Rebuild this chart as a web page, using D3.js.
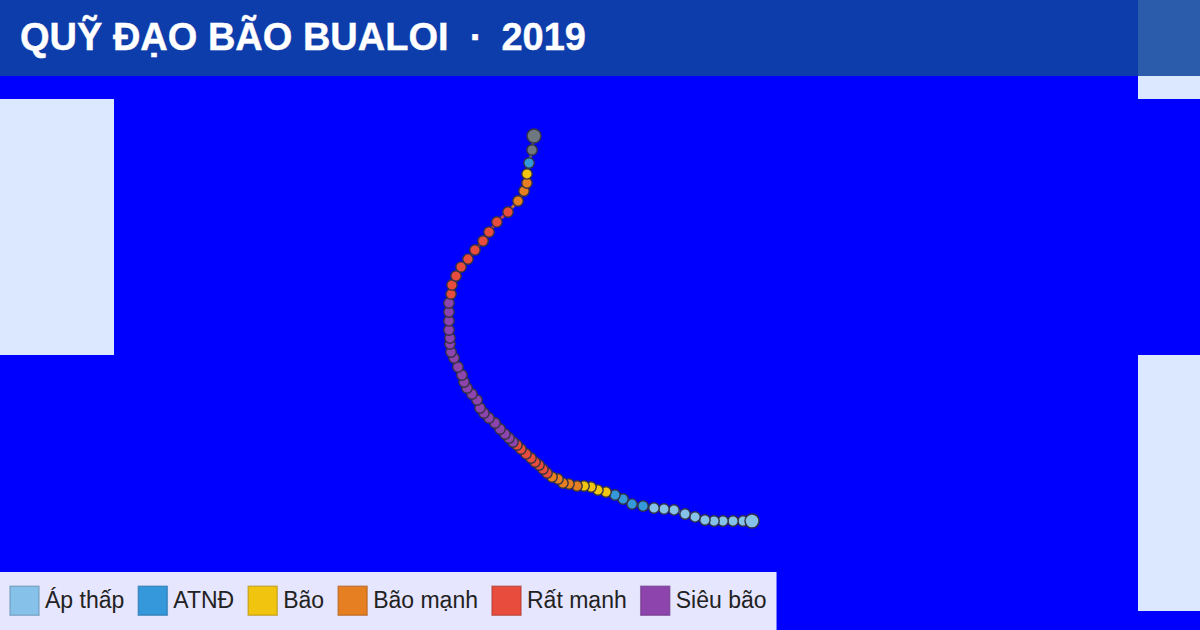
<!DOCTYPE html>
<html>
<head>
<meta charset="utf-8">
<script src="https://cdn.jsdelivr.net/npm/d3@7"></script>
<style>
  html, body { margin: 0; padding: 0; background: #0000ff; }
  svg { display: block; font-family: "Liberation Sans", Arial, sans-serif; }
</style>
</head>
<body>
<svg id="chart" width="1200" height="630"></svg>
<script>
// track, from the first point (bottom right) to the last
const lons = [165.00,164.31,163.54,162.77,162.08,161.38,160.62,159.85,159.00,158.23,157.46,
  156.62,155.77,155.08,154.46,
  153.77,153.15,152.62,152.08,
  151.54,150.92,150.46,150.08,149.62,
  149.23,148.92,148.62,148.31,148.00,147.62,147.23,146.92,
  146.62,146.31,146.00,145.62,145.23,144.77,144.38,144.08,143.85,143.46,143.08,142.85,142.69,142.38,142.08,141.85,141.77,141.77,141.69,141.69,141.69,141.69,
  141.85,141.92,142.23,142.62,143.15,143.69,144.31,144.77,145.38,146.23,
  147.00,147.46,147.69,
  147.69,
  147.85,
  148.08,148.23];
const lats = [12.40,12.40,12.40,12.40,12.40,12.47,12.69,12.90,13.19,13.26,13.33,
  13.47,13.61,13.97,14.26,
  14.47,14.61,14.83,14.90,
  14.90,15.04,15.11,15.40,15.54,
  15.83,16.11,16.40,16.61,16.90,17.19,17.54,17.83,
  18.04,18.33,18.61,18.97,19.40,19.76,20.11,20.47,21.04,21.47,21.90,22.33,22.83,23.40,24.04,24.47,25.04,25.47,26.04,26.69,27.33,27.97,
  28.61,29.26,29.90,30.54,31.11,31.76,32.40,33.04,33.76,34.47,
  35.26,35.97,36.54,
  37.19,
  37.97,
  38.90,39.90];
// category index of each stretch of the track, and how many points it holds
const stretchCat = [0, 1, 2, 3, 4, 5, 4, 3, 2, 1, 6];
const stretchLen = [11, 4, 4, 5, 8, 22, 10, 3, 1, 1, 2];

const categories = ["Áp thấp", "ATNĐ", "Bão", "Bão mạnh", "Rất mạnh", "Siêu bão", "Khác"];
const catColors = ["#85c1e9", "#3498db", "#f1c40f", "#e67e22", "#e74c3c", "#8e44ad", "#6f7780"];
const legendCats = categories.slice(0, 6);
const titleMain = "QUỸ ĐẠO BÃO BUALOI  ·  ";
const titleYear = "2019";

const landColor = "#dbe8ff";

const svg = d3.select("#chart");
const W = 1200, H = 630;

// 13px per degree lon, 14px per degree lat
const x = d3.scaleLinear().domain([165, 175]).range([752, 882]);
const y = d3.scaleLinear().domain([12.4, 22.4]).range([521, 381]);
const color = d3.scaleOrdinal().domain(d3.range(categories.length)).range(catColors);

const points = [];
stretchCat.forEach((c, s) => d3.range(stretchLen[s]).forEach(() => {
  const i = points.length;
  points.push({ lon: lons[i], lat: lats[i], cat: c });
}));

svg.append("rect").attr("width", W).attr("height", H).attr("fill", "#0000ff");

// land
const land = svg.append("g").attr("fill", landColor);
land.append("rect").attr("x", 0).attr("y", 99).attr("width", 114).attr("height", 256);
land.append("rect").attr("x", 1138).attr("y", 76).attr("width", 62).attr("height", 23);
land.append("rect").attr("x", 1138).attr("y", 355).attr("width", 62).attr("height", 256);

// track segments take the colour of the point they run to
svg.append("g").selectAll("line")
  .data(d3.pairs(points))
  .join("line")
  .attr("x1", d => x(d[0].lon)).attr("y1", d => y(d[0].lat))
  .attr("x2", d => x(d[1].lon)).attr("y2", d => y(d[1].lat))
  .attr("stroke", d => color(d[1].cat))
  .attr("stroke-width", 3)
  .attr("opacity", 0.85);

const last = points.length - 1;
svg.append("g").selectAll("circle")
  .data(points.map((d, i) => ({ ...d, big: i === 0 || i === last })).sort((a, b) => a.big - b.big))
  .join("circle")
  .attr("cx", d => x(d.lon))
  .attr("cy", d => y(d.lat))
  .attr("r", d => d.big ? 7 : 5.2)
  .attr("fill", d => color(d.cat))
  .attr("stroke", "#333344")
  .attr("stroke-width", 1.4);

// header
svg.append("rect").attr("width", W).attr("height", 76).attr("fill", "#0d3dab");
svg.append("rect").attr("x", 1138).attr("width", 62).attr("height", 76).attr("fill", "#2a5cab");
const title = svg.append("text")
  .attr("x", 20).attr("y", 49.5)
  .attr("fill", "#fff")
  .attr("stroke", "#fff")
  .attr("stroke-width", 0.4)
  .attr("font-size", 38)
  .attr("font-weight", "bold")
  .style("white-space", "pre");
title.append("tspan").text(titleMain);
title.append("tspan").attr("dx", -2).text(titleYear);

// legend
const legend = svg.append("g");
const legendBg = legend.append("rect")
  .attr("x", 0).attr("y", 572).attr("height", 58).attr("fill", "#e6e6ff");
let cursor = 10;
legendCats.forEach((name, i) => {
  legend.append("rect")
    .attr("x", cursor).attr("y", 586.25)
    .attr("width", 29).attr("height", 29)
    .attr("fill", catColors[i])
    .attr("stroke", d3.color(catColors[i]).darker(0.8))
    .attr("stroke-opacity", 0.6)
    .attr("stroke-width", 1.5);
  const label = legend.append("text")
    .attr("x", cursor + 35).attr("y", 608)
    .attr("font-size", 23)
    .attr("fill", "#222")
    .text(name);
  cursor += 35 + label.node().getComputedTextLength() + 14;
});
legendBg.attr("width", cursor - 4);
</script>
</body>
</html>
